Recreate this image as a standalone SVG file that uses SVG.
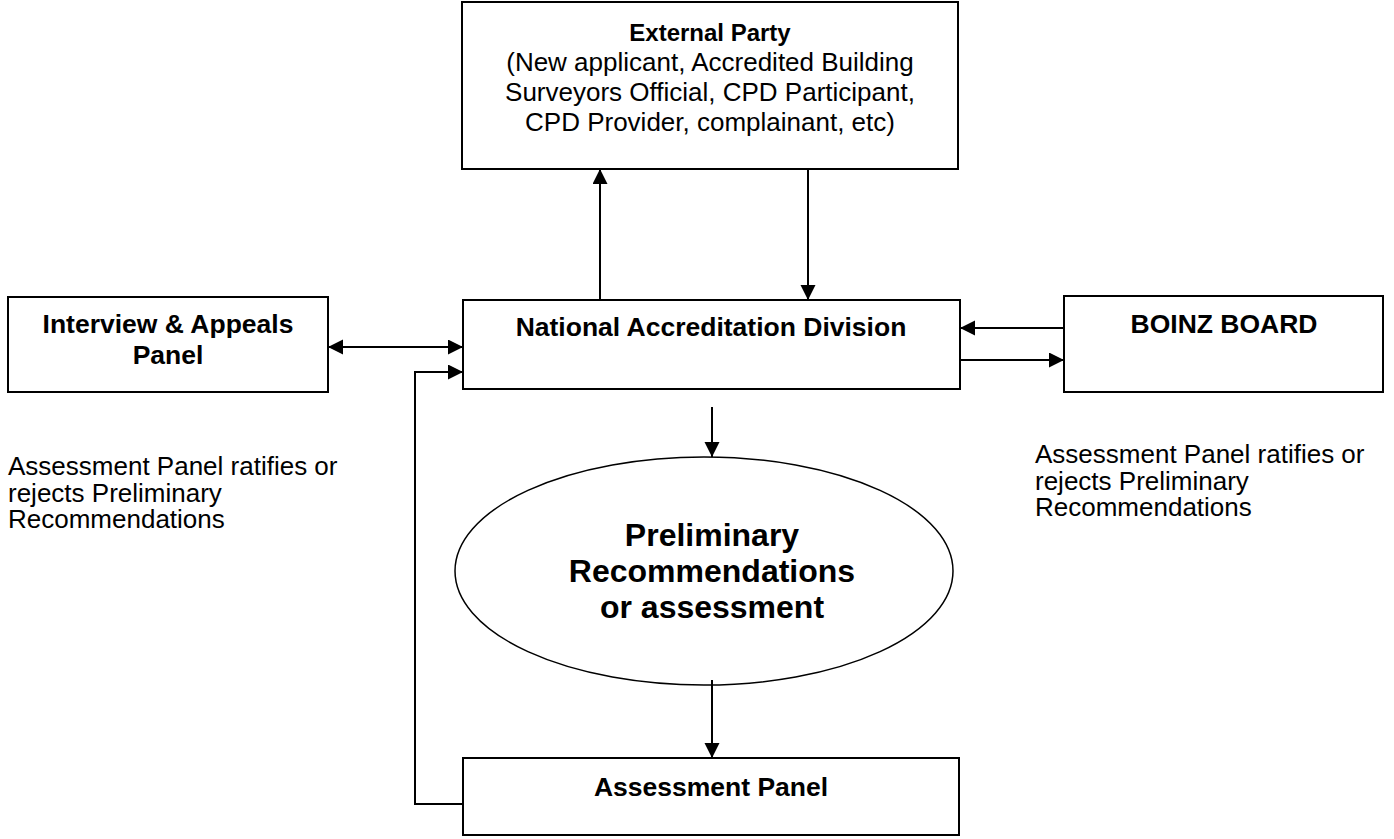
<svg xmlns="http://www.w3.org/2000/svg" width="1394" height="839" viewBox="0 0 1394 839">
<style>
.box{fill:#fff;stroke:#000;stroke-width:2}
.ell{fill:#fff;stroke:#000;stroke-width:1.5}
.b{font-family:"Liberation Sans",Arial,sans-serif;font-weight:bold;font-size:26.5px;fill:#000;text-anchor:middle}
.r{font-family:"Liberation Sans",Arial,sans-serif;font-size:26px;fill:#000}
.c{text-anchor:middle}
.ln{fill:none;stroke:#000;stroke-width:2}
</style>
<defs>
<marker id="ah" markerUnits="userSpaceOnUse" markerWidth="16" markerHeight="16" refX="15" refY="7.5" orient="auto-start-reverse">
<path d="M0,0 L15,7.5 L0,15 z" fill="#000"/>
</marker>
</defs>
<rect width="1394" height="839" fill="#fff"/>
<g id="external-party">
<rect class="box" x="462" y="2" width="496" height="167"/>
<text class="b" x="710" y="41" style="font-size:24px">External Party</text>
<text class="r c" x="710" y="71">(New applicant, Accredited Building</text>
<text class="r c" x="710" y="101">Surveyors Official, CPD Participant,</text>
<text class="r c" x="710" y="131">CPD Provider, complainant, etc)</text>
</g>
<g id="nad">
<rect class="box" x="463" y="300" width="497" height="89"/>
<text class="b" x="711" y="336">National Accreditation Division</text>
</g>
<g id="interview">
<rect class="box" x="8" y="297" width="320" height="95"/>
<text class="b" x="168" y="333">Interview &amp; Appeals</text>
<text class="b" x="168" y="364">Panel</text>
</g>
<g id="boinz">
<rect class="box" x="1064" y="296" width="319" height="96"/>
<text class="b" x="1224" y="333">BOINZ BOARD</text>
</g>
<g id="preliminary">
<ellipse class="ell" cx="704" cy="571" rx="249" ry="114"/>
<text class="b" x="712" y="546" style="font-size:32px">Preliminary</text>
<text class="b" x="712" y="582" style="font-size:32px">Recommendations</text>
<text class="b" x="712" y="618" style="font-size:32px">or assessment</text>
</g>
<g id="assessment-panel">
<rect class="box" x="463" y="758" width="496" height="77"/>
<text class="b" x="711" y="796">Assessment Panel</text>
</g>
<g id="note-left">
<text class="r" x="8" y="475">Assessment Panel ratifies or</text>
<text class="r" x="8" y="501.5">rejects Preliminary</text>
<text class="r" x="8" y="528">Recommendations</text>
</g>
<g id="note-right">
<text class="r" x="1035" y="463">Assessment Panel ratifies or</text>
<text class="r" x="1035" y="489.5">rejects Preliminary</text>
<text class="r" x="1035" y="516">Recommendations</text>
</g>
<g id="connectors">
<line class="ln" x1="600" y1="300" x2="600" y2="169" marker-end="url(#ah)"/>
<line class="ln" x1="808" y1="169" x2="808" y2="300" marker-end="url(#ah)"/>
<line class="ln" x1="328" y1="347" x2="463" y2="347" marker-start="url(#ah)" marker-end="url(#ah)"/>
<line class="ln" x1="1064" y1="328" x2="960" y2="328" marker-end="url(#ah)"/>
<line class="ln" x1="960" y1="360" x2="1064" y2="360" marker-end="url(#ah)"/>
<line class="ln" x1="712" y1="407" x2="712" y2="457" marker-end="url(#ah)"/>
<line class="ln" x1="712" y1="680" x2="712" y2="758" marker-end="url(#ah)"/>
<polyline class="ln" points="463,804 415,804 415,372 463,372" marker-end="url(#ah)"/>
</g>
</svg>
